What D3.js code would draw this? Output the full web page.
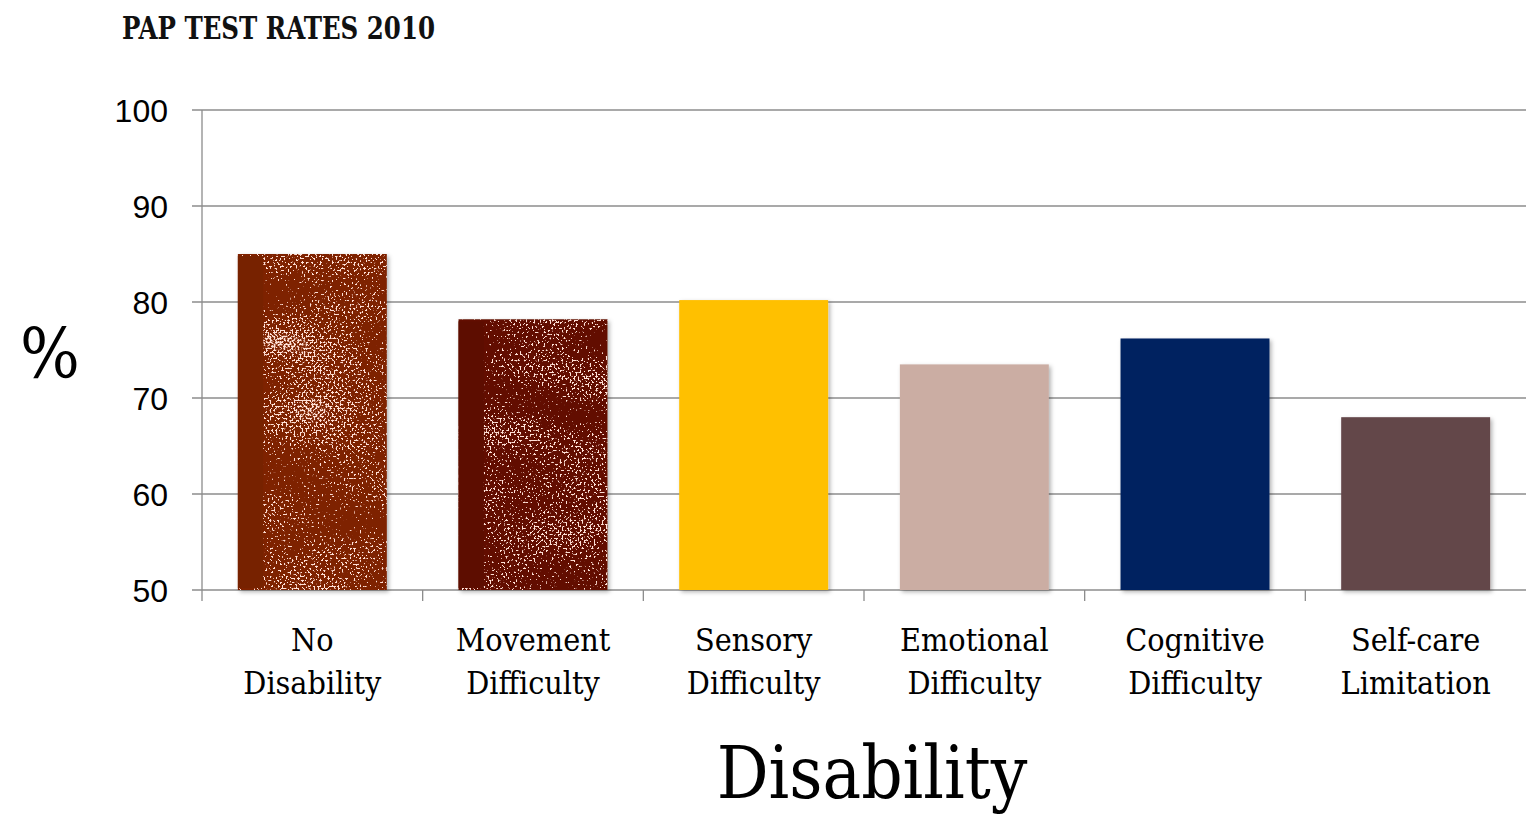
<!DOCTYPE html>
<html><head><meta charset="utf-8">
<script src="https://cdn.jsdelivr.net/npm/d3@7"></script>
<style>body{margin:0;background:#fff;}svg{display:block;}</style>
</head><body>
<script>
const categories = [["No","Disability"],["Movement","Difficulty"],["Sensory","Difficulty"],["Emotional","Difficulty"],["Cognitive","Difficulty"],["Self-care","Limitation"]];
const values = [85.0, 78.2, 80.2, 73.5, 76.2, 68.0];
const barColors = ["#7e2200","#621004","#ffc000","#cbada3","#002060","#634649"];
const textured = [true, true, false, false, false, false];
const yTicks = [50, 60, 70, 80, 90, 100];
const title = "PAP TEST RATES 2010";
const xTitle = "Disability";
const yTitle = "%";

const W = 1526, H = 819;
const m = {left: 202, right: 0, top: 110, bottom: 228};
const svg = d3.select("body").append("svg").attr("width", W).attr("height", H);
const defs = svg.append("defs");

const f = defs.append("filter").attr("id","grunge").attr("x","-5%").attr("y","-5%").attr("width","115%").attr("height","115%")
  .attr("color-interpolation-filters","sRGB");
f.append("feTurbulence").attr("type","fractalNoise").attr("baseFrequency","0.5").attr("numOctaves",2).attr("seed",7).attr("result","t1");
f.append("feColorMatrix").attr("in","t1").attr("type","matrix").attr("values","1 0 0 0 0  1 0 0 0 0  1 0 0 0 0  0 0 0 0 1").attr("result","n1");
f.append("feTurbulence").attr("type","fractalNoise").attr("baseFrequency","0.008 0.022").attr("numOctaves",1).attr("seed",4).attr("result","t2");
f.append("feColorMatrix").attr("in","t2").attr("type","matrix").attr("values","1 0 0 0 0  1 0 0 0 0  1 0 0 0 0  0 0 0 0 1").attr("result","n2");
f.append("feComposite").attr("in","n1").attr("in2","n2").attr("operator","arithmetic").attr("k1",0).attr("k2",1).attr("k3",0.55).attr("k4",-0.275).attr("result","mix");
f.append("feColorMatrix").attr("in","mix").attr("type","matrix")
  .attr("values","0 0 0 0 1  0 0 0 0 0.88  0 0 0 0 0.84  18 0 0 0 -11.1").attr("result","spk");
f.append("feComposite").attr("in","spk").attr("in2","SourceGraphic").attr("operator","in").attr("result","spk2");
f.append("feMerge").selectAll("feMergeNode").data(["SourceGraphic","spk2"]).enter().append("feMergeNode").attr("in",d=>d);

const sh = defs.append("filter").attr("id","shadow").attr("x","-10%").attr("y","-10%").attr("width","125%").attr("height","125%");
sh.append("feDropShadow").attr("dx",2).attr("dy",2).attr("stdDeviation",2).attr("flood-color","#000").attr("flood-opacity",0.3);

const x = d3.scaleBand().domain(d3.range(categories.length)).range([m.left, W - m.right]).paddingInner(0.325).paddingOuter(0.1625);
const y = d3.scaleLinear().domain([50, 100]).range([H - m.bottom - 1, m.top]);
const y0 = y(50);

svg.append("g").selectAll("line").data(yTicks).enter().append("line")
  .attr("x1", m.left - 10).attr("x2", W).attr("y1", d=>y(d)).attr("y2", d=>y(d))
  .attr("stroke", "#8c8c8c").attr("stroke-width", 1.3);

svg.append("line").attr("x1", m.left).attr("x2", m.left).attr("y1", y(100)).attr("y2", y0 + 11)
  .attr("stroke","#8c8c8c").attr("stroke-width",1.3);

const bounds = d3.range(1, categories.length).map(i => x.range()[0] + i * (x.range()[1]-x.range()[0]) / categories.length);
svg.append("g").selectAll("line").data(bounds).enter().append("line")
  .attr("x1", d=>d).attr("x2", d=>d).attr("y1", y0).attr("y2", y0 + 11)
  .attr("stroke","#8c8c8c").attr("stroke-width",1.3);

svg.append("g").selectAll("text").data(yTicks).enter().append("text")
  .attr("x", 168).attr("y", d=>y(d)).attr("dy","0.36em").attr("text-anchor","end")
  .attr("font-family","Liberation Sans, Arial, sans-serif").attr("font-size", 32).attr("fill","#000")
  .text(d=>d);

const bars = svg.append("g");
values.forEach((v, i) => {
  const g = bars.append("g").attr("filter","url(#shadow)");
  const inner = g.append("g").attr("filter", textured[i] ? "url(#grunge)" : null);
  inner.append("rect").attr("x", x(i)).attr("y", y(v)).attr("width", x.bandwidth()).attr("height", y0 - y(v)).attr("fill", barColors[i]);
  if (textured[i]) {
    g.append("rect").attr("x", x(i)).attr("y", y(v) + 2).attr("width", x.bandwidth()*0.17).attr("height", y0 - y(v) - 4)
      .attr("fill", d3.color(barColors[i]).darker(0.15));
  }
});

const font = "Rockwell, 'DejaVu Serif Condensed', 'DejaVu Serif', serif";
const lab = svg.append("g").selectAll("text").data(categories).enter().append("text")
  .attr("text-anchor","middle").attr("font-family", font).attr("font-size", 32).attr("fill","#000")
  .attr("transform", (d,i)=>`translate(${x(i)+x.bandwidth()/2},0)`);
lab.selectAll("tspan").data(d=>d).enter().append("tspan")
  .attr("x",0).attr("y",(d,j)=>651 + j*43).text(d=>d);

svg.append("text").attr("x", 872).attr("y", 798).attr("text-anchor","middle")
  .attr("font-family", font).attr("font-size", 72).attr("fill","#000").text(xTitle);
svg.append("text").attr("x", 50).attr("y", 378).attr("text-anchor","middle")
  .attr("font-family", font).attr("font-size", 70).attr("fill","#000").text(yTitle);

svg.append("text").attr("x", 122).attr("y", 39)
  .attr("font-family","'DejaVu Serif Condensed', serif").attr("font-weight","bold").attr("font-size", 31)
  .attr("textLength", 313).attr("lengthAdjust","spacingAndGlyphs").attr("fill","#111").text(title);
</script>
</body></html>
